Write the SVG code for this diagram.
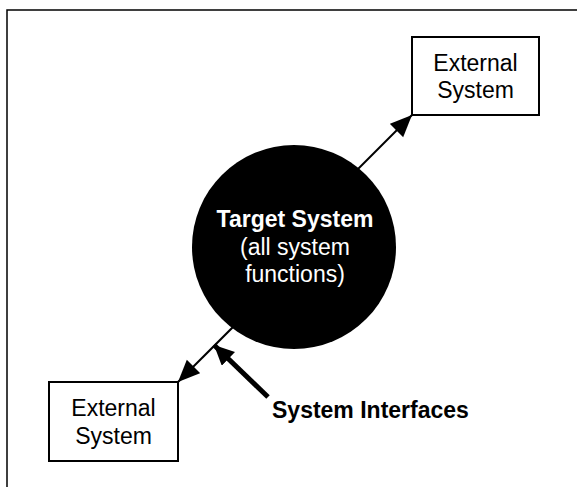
<svg xmlns="http://www.w3.org/2000/svg" width="577" height="487" viewBox="0 0 577 487">
  <style>
    .frame { fill: none; stroke: #000; stroke-width: 1.5; }
    .box { fill: #fff; stroke: #000; stroke-width: 2; }
    .lbl { font-family: "Liberation Sans", Arial, sans-serif; font-size: 23px; text-anchor: middle; fill: #000; }
    .wlbl { font-family: "Liberation Sans", Arial, sans-serif; font-size: 23px; text-anchor: middle; fill: #fff; }
    .bold { font-weight: bold; }
    .conn { stroke: #000; stroke-width: 2; fill: none; }
    .pointer { stroke: #000; stroke-width: 5; fill: none; }
  </style>
  <defs>
    <marker id="arrow" markerUnits="userSpaceOnUse" markerWidth="24" markerHeight="20" refX="22" refY="9.5" orient="auto">
      <path d="M0,0 L22,9.5 L0,19 Z" fill="#000"/>
    </marker>
    <marker id="arrowBig" markerUnits="userSpaceOnUse" markerWidth="22" markerHeight="22" refX="20" refY="9.5" orient="auto">
      <path d="M0,0 L20,9.5 L0,19 Z" fill="#000"/>
    </marker>
  </defs>

  <g id="frame">
    <path class="frame" d="M7,487 L7,10 L577,10"/>
  </g>

  <g id="connectors">
    <line class="conn" x1="330" y1="197" x2="412" y2="115" marker-end="url(#arrow)"/>
    <line class="conn" x1="262" y1="298" x2="178" y2="382" marker-end="url(#arrow)"/>
    <line class="pointer" x1="268" y1="397" x2="214" y2="345" marker-end="url(#arrowBig)"/>
  </g>

  <g id="target-system">
    <circle cx="294" cy="247" r="102" fill="#000"/>
    <text class="wlbl bold" x="295" y="227">Target System</text>
    <text class="wlbl" x="295" y="255">(all system</text>
    <text class="wlbl" x="295" y="282">functions)</text>
  </g>

  <g id="external-system-top">
    <rect class="box" x="412" y="37" width="127" height="78"/>
    <text class="lbl" x="475.5" y="71">External</text>
    <text class="lbl" x="475.5" y="98">System</text>
  </g>

  <g id="external-system-bottom">
    <rect class="box" x="49" y="382" width="129" height="79"/>
    <text class="lbl" x="113.5" y="416">External</text>
    <text class="lbl" x="113.5" y="444">System</text>
  </g>

  <g id="system-interfaces-label">
    <text class="lbl bold" x="272" y="418" style="text-anchor:start">System Interfaces</text>
  </g>
</svg>
